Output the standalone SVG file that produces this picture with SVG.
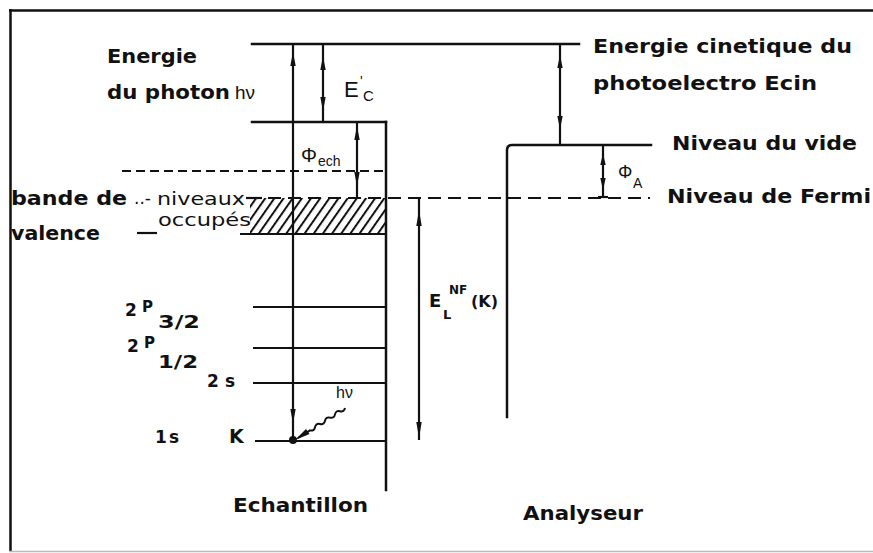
<svg xmlns="http://www.w3.org/2000/svg" width="873" height="553" viewBox="0 0 873 553">
<style>
.ln{stroke:#111;stroke-width:2.5;fill:none;stroke-linecap:square}
.lv{stroke:#111;stroke-width:2.2;fill:none}
.ds{stroke:#111;stroke-width:2;fill:none}
.ah{fill:#111}
.big{font-family:"DejaVu Sans",sans-serif;font-weight:bold;font-size:20px;fill:#111}
.sm{font-family:"DejaVu Sans",sans-serif;font-size:17px;fill:#111}
.lb{font-family:"DejaVu Sans",sans-serif;font-weight:bold;fill:#111}
.sy{font-family:"Liberation Sans",Arial,sans-serif;fill:#111}
</style>
<defs>
<pattern id="hatch" patternUnits="userSpaceOnUse" width="7.5" height="10" patternTransform="rotate(35)">
<line x1="1" y1="0" x2="1" y2="10" stroke="#111" stroke-width="2"/>
</pattern>
</defs>
<rect width="873" height="553" fill="#fff"/>
<g id="frame">
<line x1="9" y1="10.5" x2="873" y2="10.5" stroke="#111" stroke-width="2.5"/>
<line x1="10.5" y1="9" x2="10.5" y2="551" stroke="#111" stroke-width="2.5"/>
<line x1="9" y1="551.5" x2="873" y2="551.5" stroke="#bbb" stroke-width="1.5"/>
</g>
<g id="echantillon">
<rect x="250" y="198" width="136" height="36" fill="url(#hatch)"/>
<line class="ln" x1="252" y1="44" x2="579" y2="44"/>
<line class="ln" x1="252" y1="122" x2="386" y2="122"/>
<line class="ln" x1="386" y1="122" x2="386" y2="490"/>
<line class="lv" x1="240" y1="234" x2="386" y2="234"/>
<line class="lv" x1="253" y1="307" x2="386" y2="307"/>
<line class="lv" x1="253" y1="348" x2="386" y2="348"/>
<line class="lv" x1="253" y1="383" x2="386" y2="383"/>
<line class="lv" x1="255" y1="441" x2="386" y2="441"/>
<line class="ds" x1="122" y1="171" x2="386" y2="171" stroke-dasharray="9 5"/>
</g>
<g id="analyseur">
<path class="ln" d="M507,417 L507,150 Q507,145 512,145 L651,145"/>
</g>
<g id="fermi">
<line class="ds" x1="248" y1="198" x2="650" y2="198" stroke-dasharray="13 7"/>
</g>
<g id="connectors">
<line class="lv" x1="293" y1="44" x2="293" y2="441"/>
<polygon class="ah" points="293,52 290.3,66 295.7,66"/>
<polygon class="ah" points="293,423 290.3,409 295.7,409"/>
<line class="lv" x1="323" y1="44" x2="323" y2="122"/>
<polygon class="ah" points="323,56 320.3,70 325.7,70"/>
<polygon class="ah" points="323,111 320.3,97 325.7,97"/>
<line class="lv" x1="357" y1="122" x2="357" y2="198"/>
<polygon class="ah" points="357,126 354.3,140 359.7,140"/>
<polygon class="ah" points="357,186 354.3,172 359.7,172"/>
<line class="lv" x1="419" y1="198" x2="419" y2="440"/>
<polygon class="ah" points="419,210 416.3,226 421.7,226"/>
<polygon class="ah" points="419,438 416.3,422 421.7,422"/>
<line class="lv" x1="560" y1="44" x2="560" y2="145"/>
<polygon class="ah" points="560,55 557.3,68 562.7,68"/>
<polygon class="ah" points="560,129 557.3,116 562.7,116"/>
<line class="lv" x1="603" y1="145" x2="603" y2="197"/>
<polygon class="ah" points="603,153 600.3,165 605.7,165"/>
<polygon class="ah" points="603,190 600.3,178 605.7,178"/>
<line class="lv" x1="598" y1="197" x2="608" y2="197"/>
<path d="M345,408 Q344.1,412.15 340,411.2 Q335.9,410.25 335,414.4 Q334.1,418.55 330,417.6 Q325.9,416.65 325,420.8 Q324.1,424.95 320,424 Q315.9,423.05 315,427.2 Q314.1,431.35 310,430.4 L298,438" stroke="#111" stroke-width="2" fill="none"/>
<polygon class="ah" points="295,440 306,429 309.5,434"/>
<circle cx="293" cy="440" r="4" fill="#111"/>
</g>
<g id="labels">
<text class="big" x="107" y="63" textLength="90" lengthAdjust="spacingAndGlyphs">Energie</text>
<text class="big" x="107" y="99" textLength="123" lengthAdjust="spacingAndGlyphs">du photon</text>
<text class="sy" x="235" y="99" font-size="19">hν</text>
<text class="big" x="593" y="53" textLength="259" lengthAdjust="spacingAndGlyphs">Energie cinetique du</text>
<text class="big" x="593" y="90" textLength="224" lengthAdjust="spacingAndGlyphs">photoelectro Ecin</text>
<text class="big" x="672" y="150" textLength="185" lengthAdjust="spacingAndGlyphs">Niveau du vide</text>
<text class="big" x="667" y="203" textLength="204" lengthAdjust="spacingAndGlyphs">Niveau de Fermi</text>
<text class="big" x="11" y="205" textLength="116" lengthAdjust="spacingAndGlyphs">bande de</text>
<text class="big" x="11" y="240" textLength="89" lengthAdjust="spacingAndGlyphs">valence</text>
<text class="sm" x="134" y="204" font-size="15">..-</text>
<text class="sm" x="157" y="205" textLength="88" lengthAdjust="spacingAndGlyphs">niveaux</text>
<text class="sm" x="158" y="226" textLength="93" lengthAdjust="spacingAndGlyphs">occupés</text>
<line class="lv" x1="137" y1="233" x2="157" y2="233"/>
<line class="lv" x1="246" y1="198" x2="262" y2="198"/>
<text class="big" x="233" y="512" textLength="135" lengthAdjust="spacingAndGlyphs">Echantillon</text>
<text class="big" x="523" y="520" textLength="120" lengthAdjust="spacingAndGlyphs">Analyseur</text>
<text class="sy" x="344" y="97" font-size="22">E</text>
<text class="sy" x="360" y="86" font-size="14">'</text>
<text class="sy" x="363" y="101" font-size="15">C</text>
<text class="sy" x="301" y="162" font-size="20">Φ</text>
<text class="sy" x="318" y="166" font-size="14">ech</text>
<text class="sy" x="618" y="178" font-size="18">Φ</text>
<text class="sy" x="633" y="188" font-size="14">A</text>
<text class="lb" x="429" y="307" font-size="18">E</text>
<text class="lb" x="443" y="319" font-size="13">L</text>
<text class="lb" x="449" y="294" font-size="12">NF</text>
<text class="lb" x="471" y="307" font-size="16">(K)</text>
<text class="lb" x="125" y="316" font-size="17">2</text>
<text class="lb" x="142" y="312" font-size="15">P</text>
<text class="lb" x="158" y="328" font-size="18" textLength="42" lengthAdjust="spacingAndGlyphs">3/2</text>
<text class="lb" x="127" y="352" font-size="17">2</text>
<text class="lb" x="144" y="348" font-size="15">P</text>
<text class="lb" x="158" y="368" font-size="18" textLength="40" lengthAdjust="spacingAndGlyphs">1/2</text>
<text class="lb" x="207" y="387" font-size="17" textLength="28">2s</text>
<text class="lb" x="155" y="443" font-size="17" textLength="24">1s</text>
<text class="lb" x="229" y="443" font-size="19">K</text>
<text class="sy" x="336" y="398" font-size="16">hν</text>
</g>
</svg>
